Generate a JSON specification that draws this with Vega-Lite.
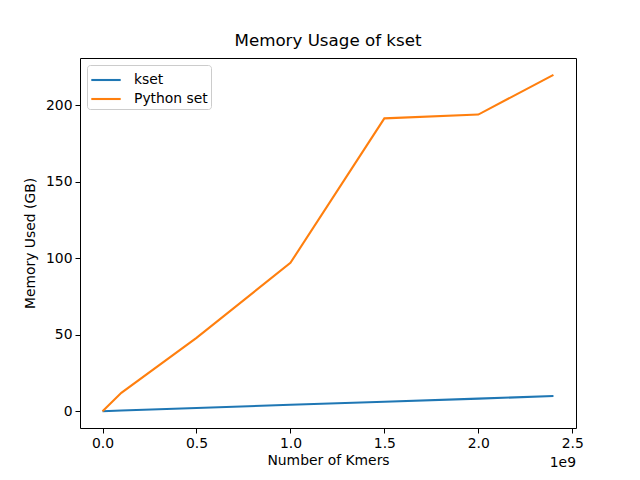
{
  "$schema": "https://vega.github.io/schema/vega-lite/v6.json",
  "width": 496,
  "height": 370,
  "autosize": {"type": "none"},
  "padding": {"left": 80, "top": 58, "right": 64, "bottom": 52},
  "background": "white",
  "title": {"text": "Memory Usage of kset", "font": "DejaVu Sans", "fontSize": 16.7, "fontWeight": "normal", "color": "black", "offset": 8, "anchor": "middle"},
  "config": {
    "view": {"stroke": "black", "strokeWidth": 1},
    "axis": {"grid": false, "domain": false, "tickColor": "black", "tickSize": 5, "tickWidth": 1, "labelFont": "DejaVu Sans", "labelFontSize": 13.9, "labelColor": "black", "titleFont": "DejaVu Sans", "titleFontSize": 13.9, "titleFontWeight": "normal", "titleColor": "black", "labelPadding": 3}
  },
  "data": {"values": [
    {"kmers": 0, "mem": 0, "series": "kset"},
    {"kmers": 100000000, "mem": 0.4, "series": "kset"},
    {"kmers": 500000000, "mem": 2.1, "series": "kset"},
    {"kmers": 1000000000, "mem": 4.2, "series": "kset"},
    {"kmers": 1500000000, "mem": 6.2, "series": "kset"},
    {"kmers": 2000000000, "mem": 8.2, "series": "kset"},
    {"kmers": 2400000000, "mem": 9.9, "series": "kset"},
    {"kmers": 0, "mem": 0, "series": "Python set"},
    {"kmers": 100000000, "mem": 12, "series": "Python set"},
    {"kmers": 500000000, "mem": 48, "series": "Python set"},
    {"kmers": 1000000000, "mem": 97, "series": "Python set"},
    {"kmers": 1500000000, "mem": 191.5, "series": "Python set"},
    {"kmers": 2000000000, "mem": 194, "series": "Python set"},
    {"kmers": 2400000000, "mem": 220, "series": "Python set"}
  ]},
  "layer": [
    {
      "mark": {"type": "line", "strokeWidth": 2.1},
      "encoding": {
        "x": {"field": "kmers", "type": "quantitative", "scale": {"domain": [-120000000, 2520000000], "nice": false, "zero": false},
              "axis": {"title": "Number of Kmers", "values": [0, 500000000, 1000000000, 1500000000, 2000000000, 2500000000], "labelExpr": "format(datum.value / 1e9, '.1f')", "titlePadding": 4}},
        "y": {"field": "mem", "type": "quantitative", "scale": {"domain": [-11, 231], "nice": false, "zero": false},
              "axis": {"title": "Memory Used (GB)", "values": [0, 50, 100, 150, 200], "titlePadding": 8}},
        "color": {"field": "series", "type": "nominal", "sort": ["kset", "Python set"],
                  "scale": {"domain": ["kset", "Python set"], "range": ["#1f77b4", "#ff7f0e"]},
                  "legend": {"title": null, "orient": "top-left", "offset": 7, "symbolType": "M-1.4,0H1.4", "symbolSize": 441, "symbolStrokeWidth": 2.1, "symbolOffset": 4,
                             "labelFont": "DejaVu Sans", "labelFontSize": 13.9, "labelColor": "black", "labelOffset": 16,
                             "fillColor": "white", "strokeColor": "#cccccc", "cornerRadius": 3, "padding": 3, "rowPadding": 0}}
      }
    },
    {
      "data": {"values": [{}]},
      "mark": {"type": "text", "text": "1e9", "font": "DejaVu Sans", "fontSize": 13.9, "color": "black", "align": "right", "baseline": "middle", "dy": 35},
      "encoding": {
        "x": {"datum": 2520000000, "type": "quantitative"},
        "y": {"datum": -11, "type": "quantitative"}
      }
    }
  ]
}
